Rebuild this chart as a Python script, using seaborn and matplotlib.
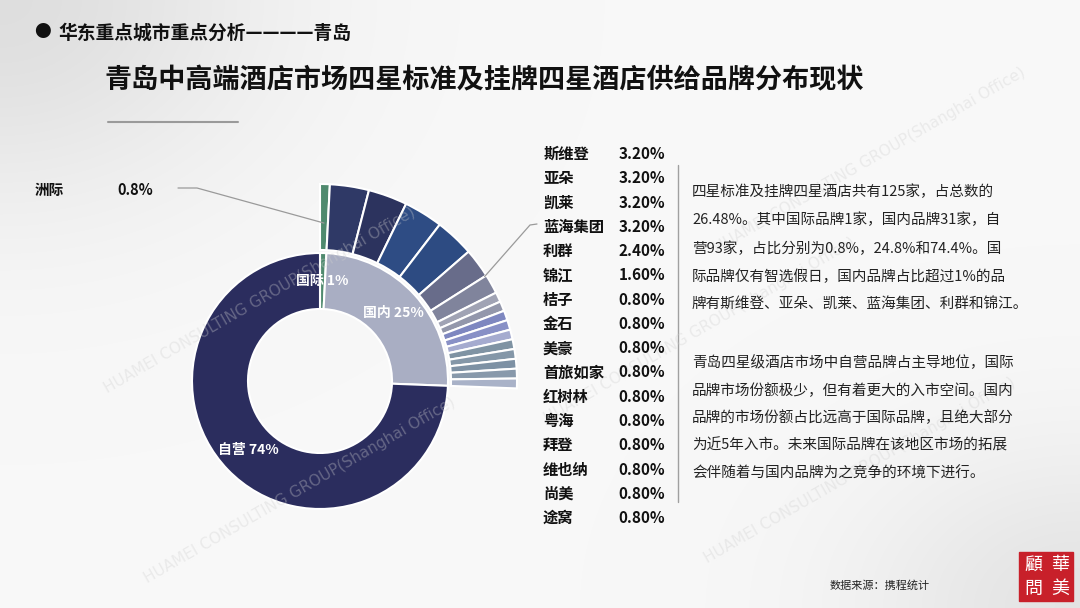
import numpy as np
import matplotlib
matplotlib.use("Agg")
import matplotlib.pyplot as plt
import seaborn as sns

# ---------------- data ----------------
inner_labels = ["国际", "国内", "自营"]
inner_values = [0.8, 24.8, 74.4]
inner_colors = ["#4f8a6e", "#a9aec3", "#2b2d5e"]

outer_labels = ["洲际", "斯维登", "亚朵", "凯莱", "蓝海集团", "利群", "锦江", "桔子", "金石",
                "美豪", "首旅如家", "红树林", "粤海", "拜登", "维也纳", "尚美", "途窝"]
outer_values = [0.8, 3.2, 3.2, 3.2, 3.2, 2.4, 1.6, 0.8, 0.8,
                0.8, 0.8, 0.8, 0.8, 0.8, 0.8, 0.8, 0.8]
outer_colors = ["#4f8a6e", "#2f3966", "#2c335e", "#2e4c84", "#2d4b82", "#686c8a", "#80849c",
                "#a0a3b4", "#9397ab", "#7e87c0", "#8890c6", "#a5abcf", "#7f93a3", "#8497a8",
                "#7d91a4", "#8899ab", "#a9b2c8"]

list_brands = outer_labels[1:]
list_values = outer_values[1:]

para1 = ["四星标准及挂牌四星酒店共有125家，占总数的",
         "26.48%。其中国际品牌1家，国内品牌31家，自",
         "营93家，占比分别为0.8%，24.8%和74.4%。国",
         "际品牌仅有智选假日，国内品牌占比超过1%的品",
         "牌有斯维登、亚朵、凯莱、蓝海集团、利群和锦江。"]
para2 = ["青岛四星级酒店市场中自营品牌占主导地位，国际",
         "品牌市场份额极少，但有着更大的入市空间。国内",
         "品牌的市场份额占比远高于国际品牌，且绝大部分",
         "为近5年入市。未来国际品牌在该地区市场的拓展",
         "会伴随着与国内品牌为之竞争的环境下进行。"]

subtitle = "华东重点城市重点分析————青岛"
title = "青岛中高端酒店市场四星标准及挂牌四星酒店供给品牌分布现状"
source = "数据来源：携程统计"

# ---------------- style ----------------
sns.set_theme(style="white")
plt.rcParams["font.family"] = ["Noto Sans CJK SC", "DejaVu Sans"]

W, H = 1080, 608
fig = plt.figure(figsize=(W / 100, H / 100), dpi=100)
bg = "#f8f8f8"
fig.patch.set_facecolor(bg)

# subtle background corner shading
bgax = fig.add_axes([0, 0, 1, 1])
bgax.set_axis_off()
yy, xx = np.mgrid[0:H, 0:W]
shade = np.exp(-((xx / 260.0) ** 2 + (yy / 200.0) ** 2)) * 0.10 \
    + np.exp(-(((W - xx) / 220.0) ** 2 + ((H - yy) / 160.0) ** 2)) * 0.08
img = np.clip(0.973 - shade, 0, 1)
bgax.imshow(np.dstack([img, img, img]), extent=[0, W, H, 0], aspect="auto", zorder=0)
bgax.set_xlim(0, W)
bgax.set_ylim(H, 0)


def T(x, y, s, **kw):
    return fig.text(x / W, 1 - y / H, s, **kw)


# watermarks
wm = "HUAMEI CONSULTING GROUP(Shanghai Office)"
for (x, y) in [(260, 300), (300, 490), (700, 330), (870, 160), (860, 470)]:
    T(x, y, wm, fontsize=11, color="#d0d0d0", alpha=0.35, rotation=30, ha="center",
      va="center", family=["DejaVu Sans"], zorder=1)

ax = fig.add_axes([0, 0, 1, 1])
ax.set_facecolor("none")

cx, cy = 320, H - 381
r_in_outer, r_hole, r_out = 128, 72, 197

# inner ring
inner_text = [f"{l} {round(v):d}%" for l, v in zip(inner_labels, inner_values)]
wi, ti = ax.pie(inner_values, labels=inner_text, colors=inner_colors, startangle=90,
                counterclock=False, radius=r_in_outer, center=(cx, cy),
                labeldistance=(r_in_outer + r_hole) / 2 / r_in_outer,
                wedgeprops=dict(width=r_in_outer - r_hole, edgecolor="white", linewidth=1.5),
                textprops=dict(color="white", fontsize=10, fontweight="bold"))
for t in ti:
    t.set_horizontalalignment("center")
    t.set_verticalalignment("center")

# outer ring (only covers its share of the circle)
wo, _ = ax.pie([v / 100 for v in outer_values], colors=outer_colors, startangle=90,
               counterclock=False, normalize=False, radius=r_out, center=(cx, cy),
               wedgeprops=dict(width=r_out - r_in_outer - 3, edgecolor="white", linewidth=1.5))

ax.set_xlim(0, W)
ax.set_ylim(0, H)
ax.set_aspect("auto")
ax.set_axis_off()

# leader line for 洲际
w0 = wo[0]
a0 = np.deg2rad((w0.theta1 + w0.theta2) / 2)
ex, ey = cx + 158 * np.cos(a0), cy + 158 * np.sin(a0)
ax.plot([178, 197, ex], [H - 188, H - 188, ey], color="#9a9a9a", lw=0.9)
# leader line on the right (利群/锦江 boundary)
w5 = wo[5]
a5 = np.deg2rad(min(w5.theta1, w5.theta2))
rx, ry = cx + 195 * np.cos(a5), cy + 195 * np.sin(a5)
ax.plot([rx, 530, 537], [ry, H - 225, H - 224], color="#9a9a9a", lw=0.9)

T(35, 190, outer_labels[0], fontsize=10.5, fontweight="bold", color="#111111", va="center")
T(117, 190, f"{outer_values[0]:.1f}%", fontsize=10.5, fontweight="bold", color="#111111", va="center")

# brand list
for i, (b, v) in enumerate(zip(list_brands, list_values)):
    y = 154 + i * 24.27
    T(543, y, b, fontsize=11, fontweight="bold", color="#111111", va="center")
    T(665, y, f"{v:.2f}%", fontsize=11, fontweight="bold", color="#111111", va="center", ha="right")

# vertical separator
ax.plot([678, 678], [H - 165, H - 502], color="#a0a0a0", lw=1)

# paragraphs
for i, line in enumerate(para1):
    T(692, 192 + i * 28.2, line, fontsize=10.5, color="#222222", va="center")
for i, line in enumerate(para2):
    T(692, 363 + i * 27.6, line, fontsize=10.5, color="#222222", va="center")

# headings
T(42, 33, "●", fontsize=12, color="#111111", va="center", ha="center")
T(58, 33, subtitle, fontsize=13.5, fontweight="bold", color="#111111", va="center")
T(104, 80, title, fontsize=19.5, fontweight="bold", color="#111111", va="center")
ax.plot([108, 238], [H - 122, H - 122], color="#9a9a9a", lw=1.5)

# source
T(830, 585, source, fontsize=8, color="#222222", va="center", style="italic")

# seal
ax.add_patch(plt.Rectangle((1019, H - 601), 54, 49, color="#c8202a", zorder=5))
for ch, (x, y) in zip("華美顧問", [(1060, 565), (1060, 589), (1033, 565), (1033, 589)]):
    T(x, y, ch, fontsize=13, color="white", ha="center", va="center",
      family=["Noto Sans CJK TC", "Noto Sans CJK SC"], zorder=6)

fig.savefig("out.png", dpi=100, facecolor=fig.get_facecolor())
